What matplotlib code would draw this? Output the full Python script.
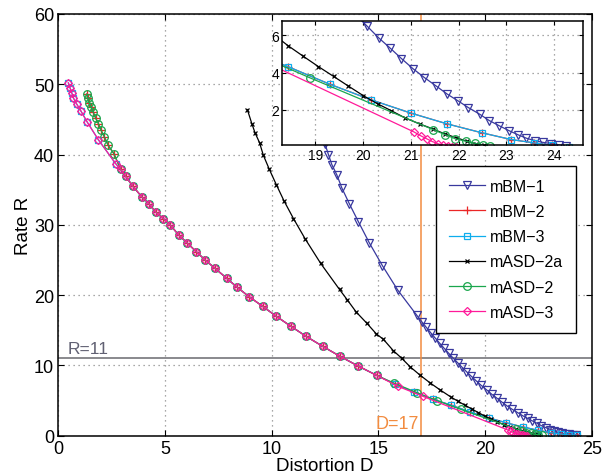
import numpy as np
import matplotlib
matplotlib.use("Agg")
import matplotlib.pyplot as plt

plt.rcParams['font.family'] = ['Liberation Sans', 'DejaVu Sans']
plt.rcParams['xtick.direction'] = 'in'
plt.rcParams['ytick.direction'] = 'in'

# ---- data (D = distortion, R = rate) ----
# upper branch shared by mBM-3 / mASD-3
top_a_D = [0.47, 0.55, 0.63, 0.70, 0.86, 1.06, 1.36, 1.88, 2.69]
top_a_R = [50.2, 49.5, 48.8, 48.1, 47.2, 46.2, 44.6, 42.1, 38.7]
# upper branch shared by mBM-2 / mASD-2
top_b_D = [1.33, 1.38, 1.45, 1.53, 1.64, 1.75, 1.88, 2.00, 2.16, 2.34, 2.61]
top_b_R = [48.6, 48.0, 47.4, 46.8, 46.0, 45.2, 44.4, 43.5, 42.5, 41.3, 40.1]
# middle part where the four curves coincide
mid_D = [2.92, 3.16, 3.49, 3.91, 4.25, 4.57, 4.92, 5.24, 5.66, 6.05, 6.46, 6.88,
         7.35, 7.89, 8.39, 8.95, 9.58, 10.21, 10.90, 11.61, 12.40, 13.20, 14.06, 14.93]
mid_R = [37.9, 36.9, 35.5, 34.0, 33.0, 31.8, 30.9, 30.0, 28.5, 27.4, 26.2, 25.0,
         23.8, 22.4, 21.1, 19.76, 18.4, 17.0, 15.57, 14.14, 12.7, 11.3, 9.9, 8.57]
# low-rate tails
low_bm3_D = [15.80, 16.68, 17.55, 18.42, 19.31, 20.17, 21.00, 21.76, 22.49, 23.10, 23.58, 23.95, 24.30]
low_bm3_R = [7.3, 6.2, 5.2, 4.33, 3.37, 2.54, 1.83, 1.25, 0.77, 0.41, 0.23, 0.10, 0.03]
low_asd2_D = [15.74, 16.83, 17.74, 18.88, 21.46, 21.71, 21.93, 22.15, 22.34, 22.50, 22.65]
low_asd2_R = [7.47, 6.1, 5.0, 3.73, 0.95, 0.68, 0.45, 0.32, 0.21, 0.12, 0.05]
low_asd3_D = [15.94, 17.08, 21.07, 21.20, 21.33, 21.45, 21.56, 21.67, 21.77, 21.86, 21.95]
low_asd3_R = [7.0, 5.61, 0.81, 0.62, 0.45, 0.30, 0.19, 0.10, 0.05, 0.02, 0.0]

mbm1_D = [12.35, 12.50, 12.66, 12.82, 13.05, 13.29, 13.64, 14.06, 14.57, 15.19, 15.91, 16.80,
          17.04, 17.24, 17.45, 17.66, 17.87, 18.08, 18.29, 18.50, 18.71, 18.92, 19.13, 19.35,
          19.58, 19.82, 20.07, 20.32, 20.56, 20.80, 21.04, 21.28, 21.53, 21.76, 21.99, 22.20,
          22.44, 22.64, 22.85, 23.06, 23.24, 23.41, 23.59, 23.76, 23.94, 24.10, 24.25]
mbm1_R = [43.0, 41.5, 40.0, 38.57, 37.14, 35.24, 33.0, 30.47, 27.47, 24.19, 20.71, 17.14,
          16.19, 15.44, 14.66, 13.91, 13.17, 12.45, 11.75, 11.06, 10.40, 9.75, 9.11, 8.47,
          7.82, 7.16, 6.53, 5.88, 5.33, 4.76, 4.22, 3.74, 3.28, 2.85, 2.48, 2.13,
          1.77, 1.43, 1.15, 0.88, 0.67, 0.49, 0.35, 0.26, 0.19, 0.12, 0.07]

asd2a_D = [8.86, 9.07, 9.22, 9.43, 9.61, 9.89, 10.22, 10.58, 11.02, 11.57, 12.30, 13.18,
           13.55, 13.96, 14.46, 14.90, 15.24, 15.70, 16.10, 16.49, 16.96, 17.43, 17.90, 18.42,
           18.74, 19.06, 19.38, 19.69, 20.00, 20.30, 20.58, 20.87, 21.18, 21.46, 21.71, 21.96,
           22.17, 22.36, 22.52]
asd2a_R = [46.4, 44.4, 43.1, 41.7, 39.9, 37.9, 35.7, 33.4, 30.9, 28.0, 24.5, 20.8,
           19.3, 17.6, 16.0, 14.5, 13.7, 12.1, 11.0, 9.8, 8.6, 7.5, 6.5, 5.46,
           4.89, 4.33, 3.80, 3.28, 2.77, 2.33, 1.97, 1.58, 1.25, 0.98, 0.71, 0.50,
           0.32, 0.18, 0.12]

mbm2_D = top_b_D + mid_D + low_bm3_D
mbm2_R = top_b_R + mid_R + low_bm3_R
mbm3_D = top_a_D + mid_D + low_bm3_D
mbm3_R = top_a_R + mid_R + low_bm3_R
asd2_D = top_b_D + mid_D + low_asd2_D
asd2_R = top_b_R + mid_R + low_asd2_R
asd3_D = top_a_D + mid_D + low_asd3_D
asd3_R = top_a_R + mid_R + low_asd3_R

series = [
    ('mBM−1', mbm1_D, mbm1_R, (0.22, 0.22, 0.62), 'v', 5.5),
    ('mBM−2', mbm2_D, mbm2_R, (0.92, 0.15, 0.15), '+', 5.5),
    ('mBM−3', mbm3_D, mbm3_R, (0.05, 0.68, 0.93), 's', 5),
    ('mASD−2a', asd2a_D, asd2a_R, (0.0, 0.0, 0.0), 'x', 3.5),
    ('mASD−2', asd2_D, asd2_R, (0.1, 0.65, 0.3), 'o', 5.5),
    ('mASD−3', asd3_D, asd3_R, (1.0, 0.1, 0.6), 'D', 4.5),
]

fig = plt.figure(figsize=(6.04, 4.77), dpi=100)
ax = fig.add_axes([0.0965, 0.0845, 0.8832, 0.8841])

for name, d, r, c, m, ms in series:
    ax.plot(d, r, color=c, lw=0.9, marker=m, ms=ms, mfc='none', mec=c, mew=0.9, label=name)

ax.axhline(11, color=(0.5, 0.5, 0.52), lw=1.3, zorder=1)
ax.axvline(17, color=(0.95, 0.55, 0.25), lw=1.1, zorder=1)
ax.text(0.45, 11.3, 'R=11', color=(0.38, 0.38, 0.45), fontsize=12.5, ha='left', va='bottom')
ax.text(16.9, 0.5, 'D=17', color=(0.95, 0.55, 0.25), fontsize=13, ha='right', va='bottom')

ax.set_xlim(0, 25)
ax.set_ylim(0, 60)
ax.set_xticks(range(0, 26, 5))
ax.set_yticks(range(0, 61, 10))
ax.grid(True, linestyle=(0, (1, 3)), color=(0.55, 0.55, 0.55), lw=0.9)
ax.tick_params(labelsize=13, top=True, right=True, length=4, width=0.8, pad=3)
for s in ax.spines.values():
    s.set_linewidth(1.1)
ax.set_xlabel('Distortion D', fontsize=13.5, labelpad=0)
ax.set_ylabel('Rate R', fontsize=13.5, labelpad=1)

leg = ax.legend(loc='upper right', bbox_to_anchor=(0.9706, 0.6396), borderaxespad=0,
                fontsize=11.5, handlelength=2.3, handletextpad=0.3, labelspacing=0.64,
                borderpad=0.8, fancybox=False, framealpha=1, edgecolor='black')
leg.get_frame().set_linewidth(1.0)

# inset zoom on the low-rate region
ins = fig.add_axes([0.467, 0.694, 0.498, 0.260])
for name, d, r, c, m, ms in series:
    ins.plot(d, r, color=c, lw=0.9, marker=m, ms=ms, mfc='none', mec=c, mew=0.9)
ins.set_xlim(18.3, 24.6)
ins.set_ylim(0.12, 6.78)
ins.set_xticks(range(19, 25))
ins.set_yticks([2, 4, 6])
ins.grid(True, linestyle=(0, (1, 3)), color=(0.55, 0.55, 0.55), lw=0.9)
ins.tick_params(labelsize=10, top=True, right=True, length=3, width=0.8, pad=2)
for s in ins.spines.values():
    s.set_linewidth(1.1)

fig.savefig('out.png', dpi=100)
